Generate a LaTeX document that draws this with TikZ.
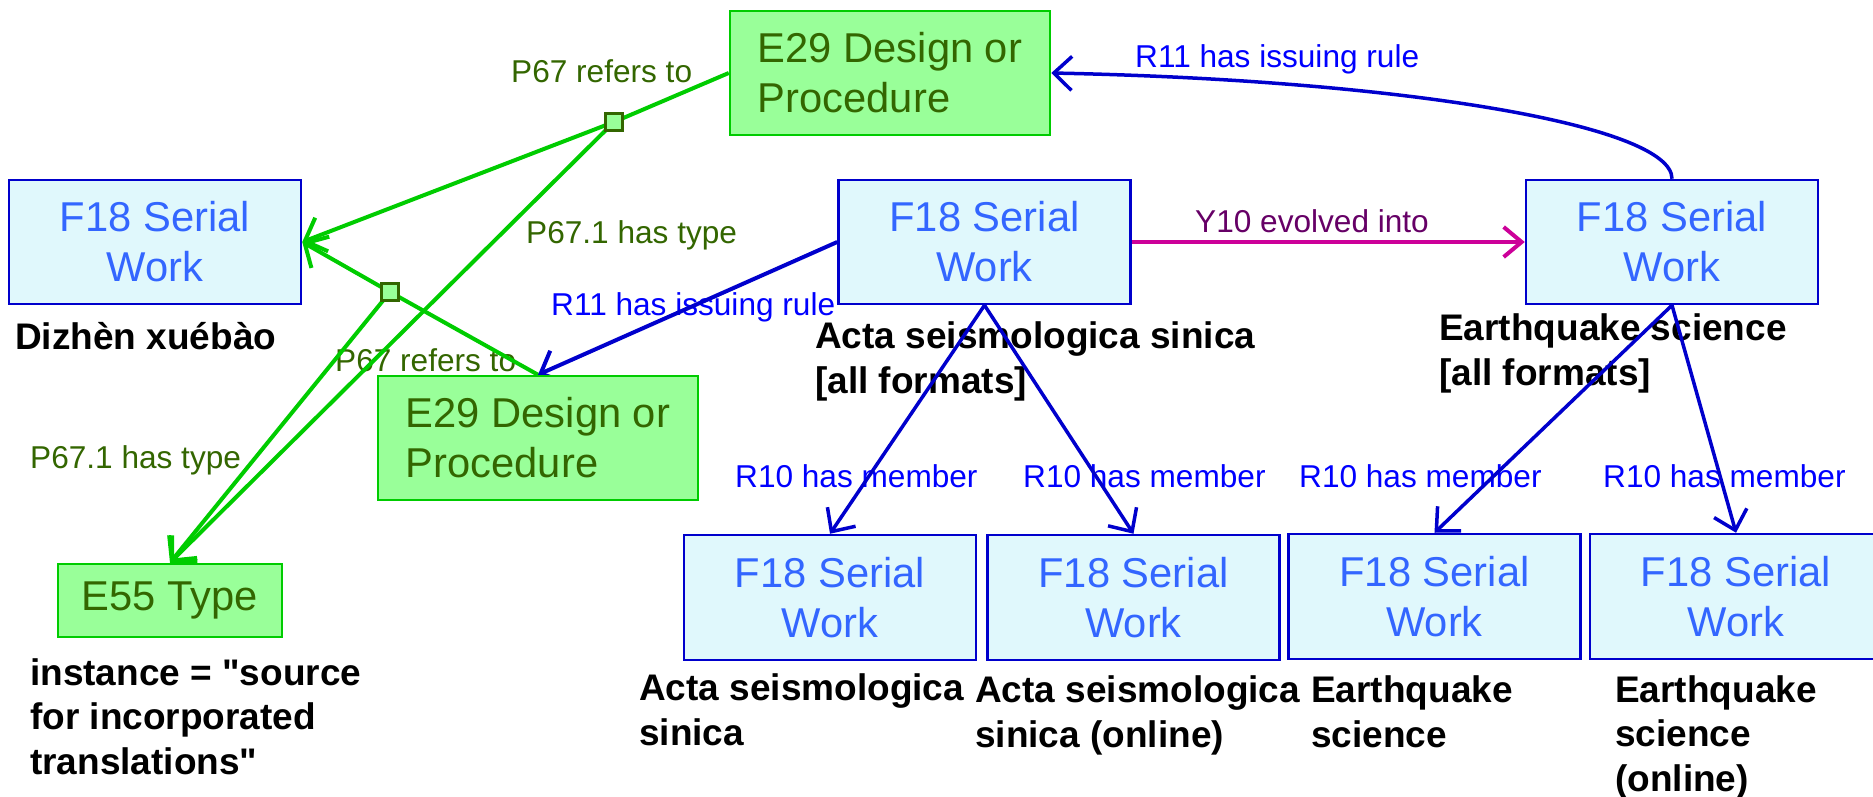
\documentclass[tikz,border=0pt]{standalone}
\usepackage{fontspec}
\setmainfont{Liberation Sans}[Ligatures=TeXOff]
\usetikzlibrary{arrows.meta,backgrounds}
\definecolor{fbfill}{HTML}{E0F8FC}
\definecolor{fbdraw}{HTML}{0000CC}
\definecolor{fbtext}{HTML}{3366FF}
\definecolor{egfill}{HTML}{99FF99}
\definecolor{egdraw}{HTML}{00CC00}
\definecolor{egtext}{HTML}{336600}
\definecolor{bluelab}{HTML}{0000FF}
\definecolor{magline}{HTML}{CC0099}
\definecolor{maglab}{HTML}{660066}
\begin{document}
\begin{tikzpicture}[x=1pt,y=-1pt,
  fbox/.style={draw=fbdraw, fill=fbfill, line width=2.5pt, text=fbtext, minimum width=292pt, minimum height=124pt, inner sep=0pt, align=center, font=\fontsize{41.7}{50}\selectfont},
  ebox/.style={draw=egdraw, fill=egfill, line width=2.5pt, text=egtext, inner sep=0pt, align=left, font=\fontsize{41.7}{50}\selectfont},
  sqnode/.style={draw=egtext, fill=egfill, line width=3.5pt, minimum size=17pt, inner sep=0pt},
  elab/.style={anchor=base west, inner sep=0pt, font=\fontsize{31.6}{38}\selectfont},
  blab/.style={anchor=base west, inner sep=0pt, align=left, font=\fontsize{37}{44.5}\selectfont\bfseries},
  gline/.style={draw=egdraw, line width=4pt},
  garrow/.style={gline, -{Straight Barb[length=18pt,width=36pt]}},
  barrow/.style={draw=fbdraw, line width=4pt, -{Straight Barb[length=18pt,width=34pt]}},
  bthin/.style={draw=fbdraw, line width=3.5pt, -{Straight Barb[length=18pt,width=34pt]}},
  marrow/.style={draw=magline, line width=4pt, -{Straight Barb[length=18pt,width=30pt]}}
]
\path[use as bounding box, clip] (0,0) rectangle (1873,797);

% boxes
\node[fbox] (f18a) at (155,242) {F18 Serial\\Work};
\node[fbox] (f18m) at (984.5,242) {F18 Serial\\Work};
\node[fbox] (f18r) at (1672,242) {F18 Serial\\Work};
\node[fbox, minimum height=125pt] (b1) at (830,597.5) {F18 Serial\\Work};
\node[fbox, minimum height=125pt] (b2) at (1133.5,597.5) {F18 Serial\\Work};
\node[fbox, minimum height=125pt] (b3) at (1434.5,596.5) {F18 Serial\\Work};
\node[fbox, minimum height=125pt] (b4) at (1736,596.5) {F18 Serial\\Work};
\node[ebox, minimum width=320pt, minimum height=124pt] (e29a) at (890,73) {E29 Design or\\Procedure};
\node[ebox, minimum width=320pt, minimum height=124pt] (e29b) at (538,438) {E29 Design or\\Procedure};
\node[ebox, align=center, minimum width=224pt, minimum height=73pt] (e55) at (170,600.5) {E55 Type};

\begin{pgfonlayer}{background}
% bold labels (anchor = baseline of last line)
\node[blab] (tdiz) at (15,349) {Dizhèn xuébào};
\node[blab] (tacta) at (815,393) {Acta seismologica sinica\\{[all formats]}};
\node[blab] (tearth) at (1439,385) {Earthquake science\\{[all formats]}};
\node[blab] (tinst) at (30,774) {instance = "source\\for incorporated\\translations"};
\node[blab] (tb1) at (639,745) {Acta seismologica\\sinica};
\node[blab] (tb2) at (975,747) {Acta seismologica\\sinica (online)};
\node[blab] (tb3) at (1311,747) {Earthquake\\science};
\node[blab] (tb4) at (1615,791) {Earthquake\\science\\(online)};
% edge labels
\node[elab, text=egtext] (l1) at (511,83) {P67 refers to};
\node[elab, text=egtext] (l2) at (526,243) {P67.1 has type};
\node[elab, text=egtext] (l3) at (335,371) {P67 refers to};
\node[elab, text=egtext] (l4) at (30,468) {P67.1 has type};
\node[elab, text=bluelab] (l5) at (551,315) {R11 has issuing rule};
\node[elab, text=bluelab] (l6) at (1135,68) {R11 has issuing rule};
\node[elab, text=maglab] (l7) at (1195,232) {Y10 evolved into};
\node[elab, text=bluelab] (r1) at (735,487) {R10 has member};
\node[elab, text=bluelab] (r2) at (1023,487) {R10 has member};
\node[elab, text=bluelab] (r3) at (1299,487) {R10 has member};
\node[elab, text=bluelab] (r4) at (1603,487) {R10 has member};
% connectors
\coordinate (sq2c) at (614,122);
\coordinate (sq1c) at (390,292);
\draw[gline] (e29a.west) -- (sq2c);
\draw[garrow] (sq2c) -- (f18a.east);
\draw[garrow] (sq2c) -- (e55.north);
\draw[gline] (e29b.north) -- (sq1c);
\draw[garrow] (sq1c) -- (f18a.east);
\draw[garrow] (sq1c) -- (e55.north);
\draw[barrow] (f18m.west) -- (e29b.north);
\draw[barrow, line width=3.5pt] (f18r.north) .. controls (1672,125) and (1400,80) .. (e29a.east);
\draw[marrow] (f18m.east) -- (f18r.west);
\draw[bthin] (f18m.south) -- (b1.north);
\draw[bthin] (f18m.south) -- (b2.north);
\draw[bthin] (f18r.south) -- (b3.north);
\draw[bthin] (f18r.south) -- (b4.north);
\end{pgfonlayer}

\node[sqnode] (sq2) at (sq2c) {};
\node[sqnode] (sq1) at (sq1c) {};
\end{tikzpicture}
\end{document}
